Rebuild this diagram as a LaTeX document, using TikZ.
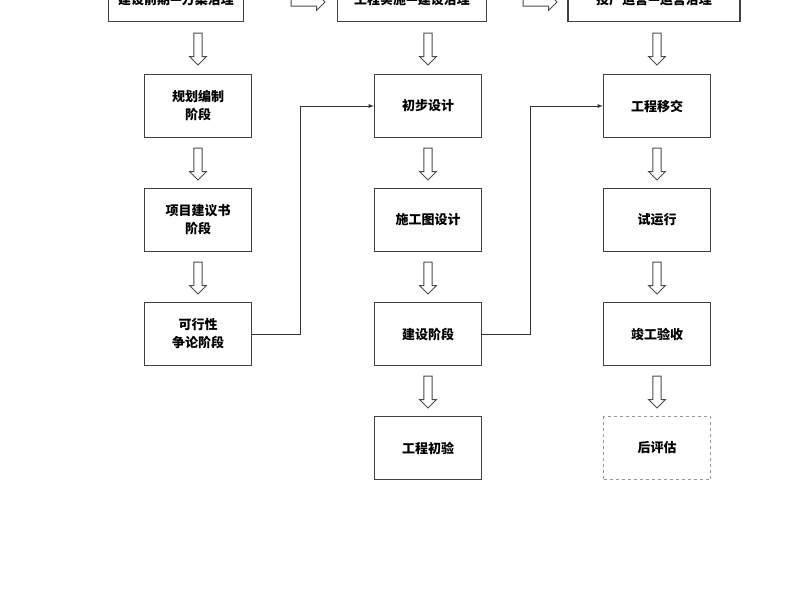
\documentclass[tikz,border=0pt]{standalone}
\usepackage{fontspec}
\setmainfont{Noto Sans CJK SC}
\usetikzlibrary{positioning,shapes.arrows}

\begin{document}
\begin{tikzpicture}[x=1pt,y=-1pt,
    stage/.style={draw=black!75,line width=1.2pt,minimum width=107pt,minimum height=63pt,align=center,font=\fontsize{13}{18}\selectfont\bfseries},
    head/.style={draw=black!75,line width=1.2pt,minimum height=44pt,anchor=south,font=\fontsize{13}{15}\selectfont\bfseries},
    hollow/.style={single arrow,draw=black!70,line width=0.9pt,minimum width=17pt,single arrow head extend=1.5pt,inner sep=1pt,minimum height=32pt,shape border rotate=270},
    link/.style={draw=black!80,line width=0.8pt,-latex}]
    \useasboundingbox (0,0) rectangle (800,600);
    % headers, cut by the top edge
    \node[head,minimum width=135pt] (hA) at (176,22) {建设前期—方案治理};
    \node[head,minimum width=149pt] (hB) at (412,22) {工程实施—建设治理};
    \node[head,minimum width=172pt] (hC) at (654,22) {投产运营—运营治理};
    \node[hollow,shape border rotate=0,minimum height=34pt] (rA) at (306,2) {};
    \node[hollow,shape border rotate=0,minimum height=34pt] (rB) at (538,2) {};
    % first column
    \node[stage] (guihua) at (198,106) {规划编制\\阶段};
    \node[stage] (xiangmu) at (198,220) {项目建议书\\阶段};
    \node[stage] (kexing) at (198,334) {可行性\\争论阶段};
    % second column
    \node[stage] (chubu) at (428,106) {初步设计};
    \node[stage] (shigong) at (428,220) {施工图设计};
    \node[stage] (jianshe) at (428,334) {建设阶段};
    \node[stage] (chuyan) at (428,448) {工程初验};
    % third column
    \node[stage] (yijiao) at (657,106) {工程移交};
    \node[stage] (shiyun) at (657,220) {试运行};
    \node[stage] (jungong) at (657,334) {竣工验收};
    \node[stage,draw=black!40,dashed] (hou) at (657,448) {后评估};
    % hollow arrows
    \foreach \x in {198,428,657}
        \node[hollow] at (\x,47) {};
    \foreach \y in {162,276}
        \foreach \x in {198,428,657}
            \node[hollow] at (\x,\y) {};
    \foreach \x in {428,657}
        \node[hollow] at (\x,390) {};
    % links
    \draw[link] (kexing.east) -| (300,106) -- (chubu.west);
    \draw[link] (jianshe.east) -| (530,106) -- (yijiao.west);
\end{tikzpicture}
\end{document}
